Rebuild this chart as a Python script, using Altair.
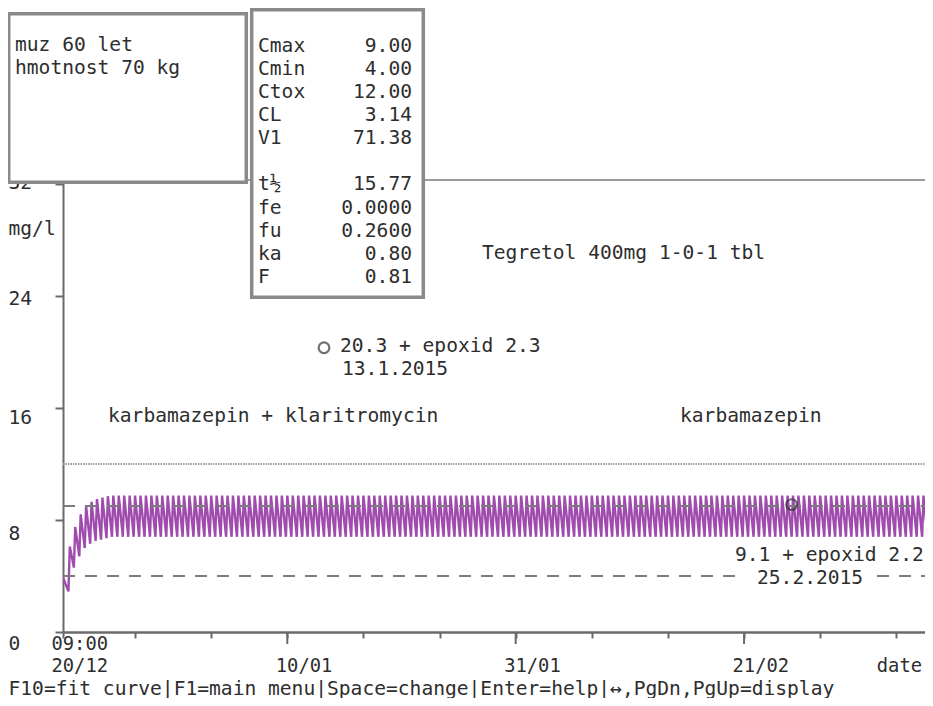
import altair as alt
import pandas as pd

# ---------------- values ----------------
patient_lines = ["muz 60 let", "hmotnost 70 kg"]
param_names = ["Cmax", "Cmin", "Ctox", "CL", "V1", "t½", "fe", "fu", "ka", "F"]
param_values = ["9.00", "4.00", "12.00", "3.14", "71.38", "15.77", "0.0000", "0.2600", "0.80", "0.81"]
param_rows = [0, 1, 2, 3, 4, 6, 7, 8, 9, 10]

c_max = 9.0
c_min = 4.0
c_tox = 12.0

# simulated carbamazepine level (mg/l), 1-0-1 tbl -> a dose every 12 h
start_level = 3.9
dose_interval = 0.5      # days
peak_delay = 0.125       # days after a dose
trough_levels = [2.9, 4.6, 5.4, 6.0, 6.3, 6.5, 6.6, 6.7] + [6.8] * 151
peak_levels = [6.1, 7.5, 8.4, 9.0, 9.3, 9.5, 9.6, 9.7] + [9.75] * 151
end_level = 6.8
end_day = 80.0

# measured levels (days after 20/12 09:00)
measured_days = [24.0, 67.0]
measured_levels = [20.3, 9.1]
epoxid_levels = [2.3, 2.2]
measured_dates = ["13.1.2015", "25.2.2015"]

regimen_text = "Tegretol 400mg 1-0-1 tbl"
period_texts = ["karbamazepin + klaritromycin", "karbamazepin"]

y_ticks = [0, 8, 16, 24, 32]
x_tick_days = [0, 6.625, 13.625, 20.625, 27.625, 34.625, 41.625, 48.625,
               55.625, 62.625, 69.625, 76.625]
x_major_days = [20.625, 41.625, 62.625]
x_label_days = [0, 20.625, 41.625, 62.625, 76.625]
x_label_lines = [["09:00", "20/12"], ["", "10/01"], ["", "31/01"], ["", "21/02"], ["", "date"]]
status_line = "F10=fit curve|F1=main menu|Space=change|Enter=help|↔,PgDn,PgUp=display"
y_unit = "mg/l"

# ---------------- layout ----------------
PX_DAY = 10.875
PX_UNIT = 14.0
W, H = 862, 452
X_DOMAIN = [0, W / PX_DAY]
Y_DOMAIN = [0, H / PX_UNIT]
ORIGIN_X, ORIGIN_Y = 63, 632   # page pixel of the plot origin


def to_d(px):
    return (px - ORIGIN_X) / PX_DAY


def to_v(py):
    return (ORIGIN_Y - py) / PX_UNIT


FONT = "DejaVu Sans Mono"
FS = 19.6
FS_X = 18.8
TXT = "#2e2e2e"
AX = "#6a6a6a"
PURPLE = "#a04cae"
BOX = "#8a8a8a"

xs = alt.Scale(domain=X_DOMAIN, nice=False, zero=False)
ys = alt.Scale(domain=Y_DOMAIN, nice=False, zero=False)

label_expr = ""
for day, lines in zip(x_label_days, x_label_lines):
    label_expr += f"abs(datum.value - {day}) < 0.01 ? {lines!r} : "
label_expr += "''"

x_axis = alt.Axis(
    values=x_tick_days, tickSize=6, tickWidth=2, tickColor=AX,
    domainColor=AX, domainWidth=2.5, grid=False,
    labelExpr=label_expr, labelAlign="left", labelBaseline="top",
    labelOffset={"condition": [
        {"test": f"abs(datum.value - {x_label_days[-1]}) < 0.01", "value": -20},
    ], "value": -12},
    labelPadding=-4, labelLineHeight=22.2,
    labelFont=FONT, labelFontSize=FS_X, labelColor=TXT,
    labelFlush=False, labelOverlap=False,
    title=status_line, titleX=-55, titleY=56, titleAlign="left",
    titleBaseline="middle", titleFont=FONT, titleFontSize=FS,
    titleFontWeight="normal", titleColor=TXT,
)

y_axis = alt.Axis(
    values=y_ticks, tickSize=8, tickWidth=2, tickColor=AX,
    domainColor=AX, domainWidth=2, grid=False,
    labelAlign="left", labelBaseline="middle", labelPadding=47,
    labelOffset={"condition": [
        {"test": "datum.value == 0", "value": 11},
        {"test": "datum.value == 8", "value": 13},
        {"test": "datum.value == 16", "value": 9},
        {"test": "datum.value == 24", "value": 2},
    ], "value": -2},
    labelFont=FONT, labelFontSize=FS, labelColor=TXT,
    labelFlush=False, labelOverlap=False,
    title=y_unit, titleAngle=0, titleX=-55, titleY=48, titleAlign="left",
    titleBaseline="middle", titleFont=FONT, titleFontSize=FS,
    titleFontWeight="normal", titleColor=TXT,
)


def X(f):
    return alt.X(f, type="quantitative", scale=xs, axis=x_axis)


def Y(f):
    return alt.Y(f, type="quantitative", scale=ys, axis=y_axis)


# ---------------- curve ----------------
rows = [(0.0, start_level)]
for k, (tr, pk) in enumerate(zip(trough_levels, peak_levels)):
    t = dose_interval * (k + 1)
    rows.append((t, tr))
    rows.append((t + peak_delay, pk))
rows.append((end_day, end_level))
df_curve = pd.DataFrame(rows, columns=["d", "v"])
df_curve["i"] = range(len(df_curve))

curve = alt.Chart(df_curve).mark_line(color=PURPLE, strokeWidth=2.4, clip=True).encode(
    x=X("d"), y=Y("v"), order="i:Q")

# ---------------- level lines ----------------
df_dash = pd.DataFrame({"d": [0, 0], "d2": [X_DOMAIN[1]] * 2, "v": [c_max, c_min]})
dashed = alt.Chart(df_dash).mark_rule(color="#7c7c7c", strokeWidth=2, strokeDash=[12, 10]).encode(
    x=X("d"), x2="d2", y=Y("v"))
df_tox = pd.DataFrame({"d": [0], "d2": [X_DOMAIN[1]], "v": [c_tox]})
dotted = alt.Chart(df_tox).mark_rule(color="#a0a0a0", strokeWidth=1.8, strokeDash=[1.5, 1]).encode(
    x=X("d"), x2="d2", y=Y("v"))

# top frame line and long ticks
df_top = pd.DataFrame({"d": [0], "d2": [X_DOMAIN[1]], "v": [Y_DOMAIN[1]]})
top_line = alt.Chart(df_top).mark_rule(color="#7a7a7a", strokeWidth=1.5).encode(
    x=X("d"), x2="d2", y=Y("v"))
df_major = pd.DataFrame({"d": x_major_days, "v": [0.0] * 3, "v2": [-12 / PX_UNIT] * 3})
major_ticks = alt.Chart(df_major).mark_rule(color=AX, strokeWidth=2).encode(
    x=X("d"), y=Y("v"), y2="v2")

# ---------------- measured points & annotations ----------------
df_meas = pd.DataFrame({"d": measured_days, "v": measured_levels})
points = alt.Chart(df_meas).mark_point(shape="circle", filled=False, size=115,
                                       strokeWidth=2.2, color="#333333").encode(
    x=X("d"), y=Y("v"))

ann_texts = [
    regimen_text,
    f"{measured_levels[0]} + epoxid {epoxid_levels[0]}",
    measured_dates[0],
    period_texts[0],
    period_texts[1],
    f"{measured_levels[1]} + epoxid {epoxid_levels[1]}",
    measured_dates[1],
]
ann_px = [(482, 253), (340, 346), (342, 369), (108, 416), (680, 416), (735, 555), (757, 578)]
df_ann = pd.DataFrame({
    "t": ann_texts,
    "d": [to_d(p[0]) for p in ann_px],
    "v": [to_v(p[1]) for p in ann_px],
})

# white background behind the second date (breaks the Cmin line)
df_bg = pd.DataFrame({"d": [to_d(745)], "d2": [to_d(871)], "v": [to_v(567)], "v2": [to_v(589)]})
date_bg = alt.Chart(df_bg).mark_rect(fill="white").encode(
    x=X("d"), x2="d2", y=Y("v"), y2="v2")


def text_layer(df, align="left"):
    return alt.Chart(df).mark_text(
        align=align, baseline="middle", font=FONT, fontSize=FS, color=TXT
    ).encode(x=X("d"), y=Y("v"), text="t:N")


annotations = text_layer(df_ann)

# ---------------- info boxes ----------------
box_px = [(8.7, 246.3, 13.7, 182.3), (251.7, 423.3, 9.7, 297.3)]
df_box = pd.DataFrame({
    "d": [to_d(b[0]) for b in box_px],
    "d2": [to_d(b[1]) for b in box_px],
    "v": [to_v(b[2]) for b in box_px],
    "v2": [to_v(b[3]) for b in box_px],
})
boxes = alt.Chart(df_box).mark_rect(fill="white", stroke=BOX, strokeWidth=3.5).encode(
    x=X("d"), x2="d2", y=Y("v"), y2="v2")

ROW0, ROWH = 45.5, 23.15
df_patient = pd.DataFrame({
    "t": patient_lines,
    "d": [to_d(15)] * len(patient_lines),
    "v": [to_v(45), to_v(68)],
})
df_pname = pd.DataFrame({
    "t": param_names,
    "d": [to_d(258)] * len(param_names),
    "v": [to_v(ROW0 + ROWH * r) for r in param_rows],
})
df_pval = pd.DataFrame({
    "t": param_values,
    "d": [to_d(412)] * len(param_values),
    "v": [to_v(ROW0 + ROWH * r) for r in param_rows],
})

chart = alt.layer(
    curve, dotted, dashed, date_bg, points, annotations, top_line, major_ticks,
    boxes, text_layer(df_patient), text_layer(df_pname), text_layer(df_pval, "right"),
).properties(
    width=W, height=H,
    padding={"left": 55, "top": 172, "right": 0, "bottom": 66},
    autosize=alt.AutoSizeParams(type="none"),
    background="white",
).configure_view(stroke=None)

chart.save("out.html", embed_options={"renderer": "svg", "actions": False})
